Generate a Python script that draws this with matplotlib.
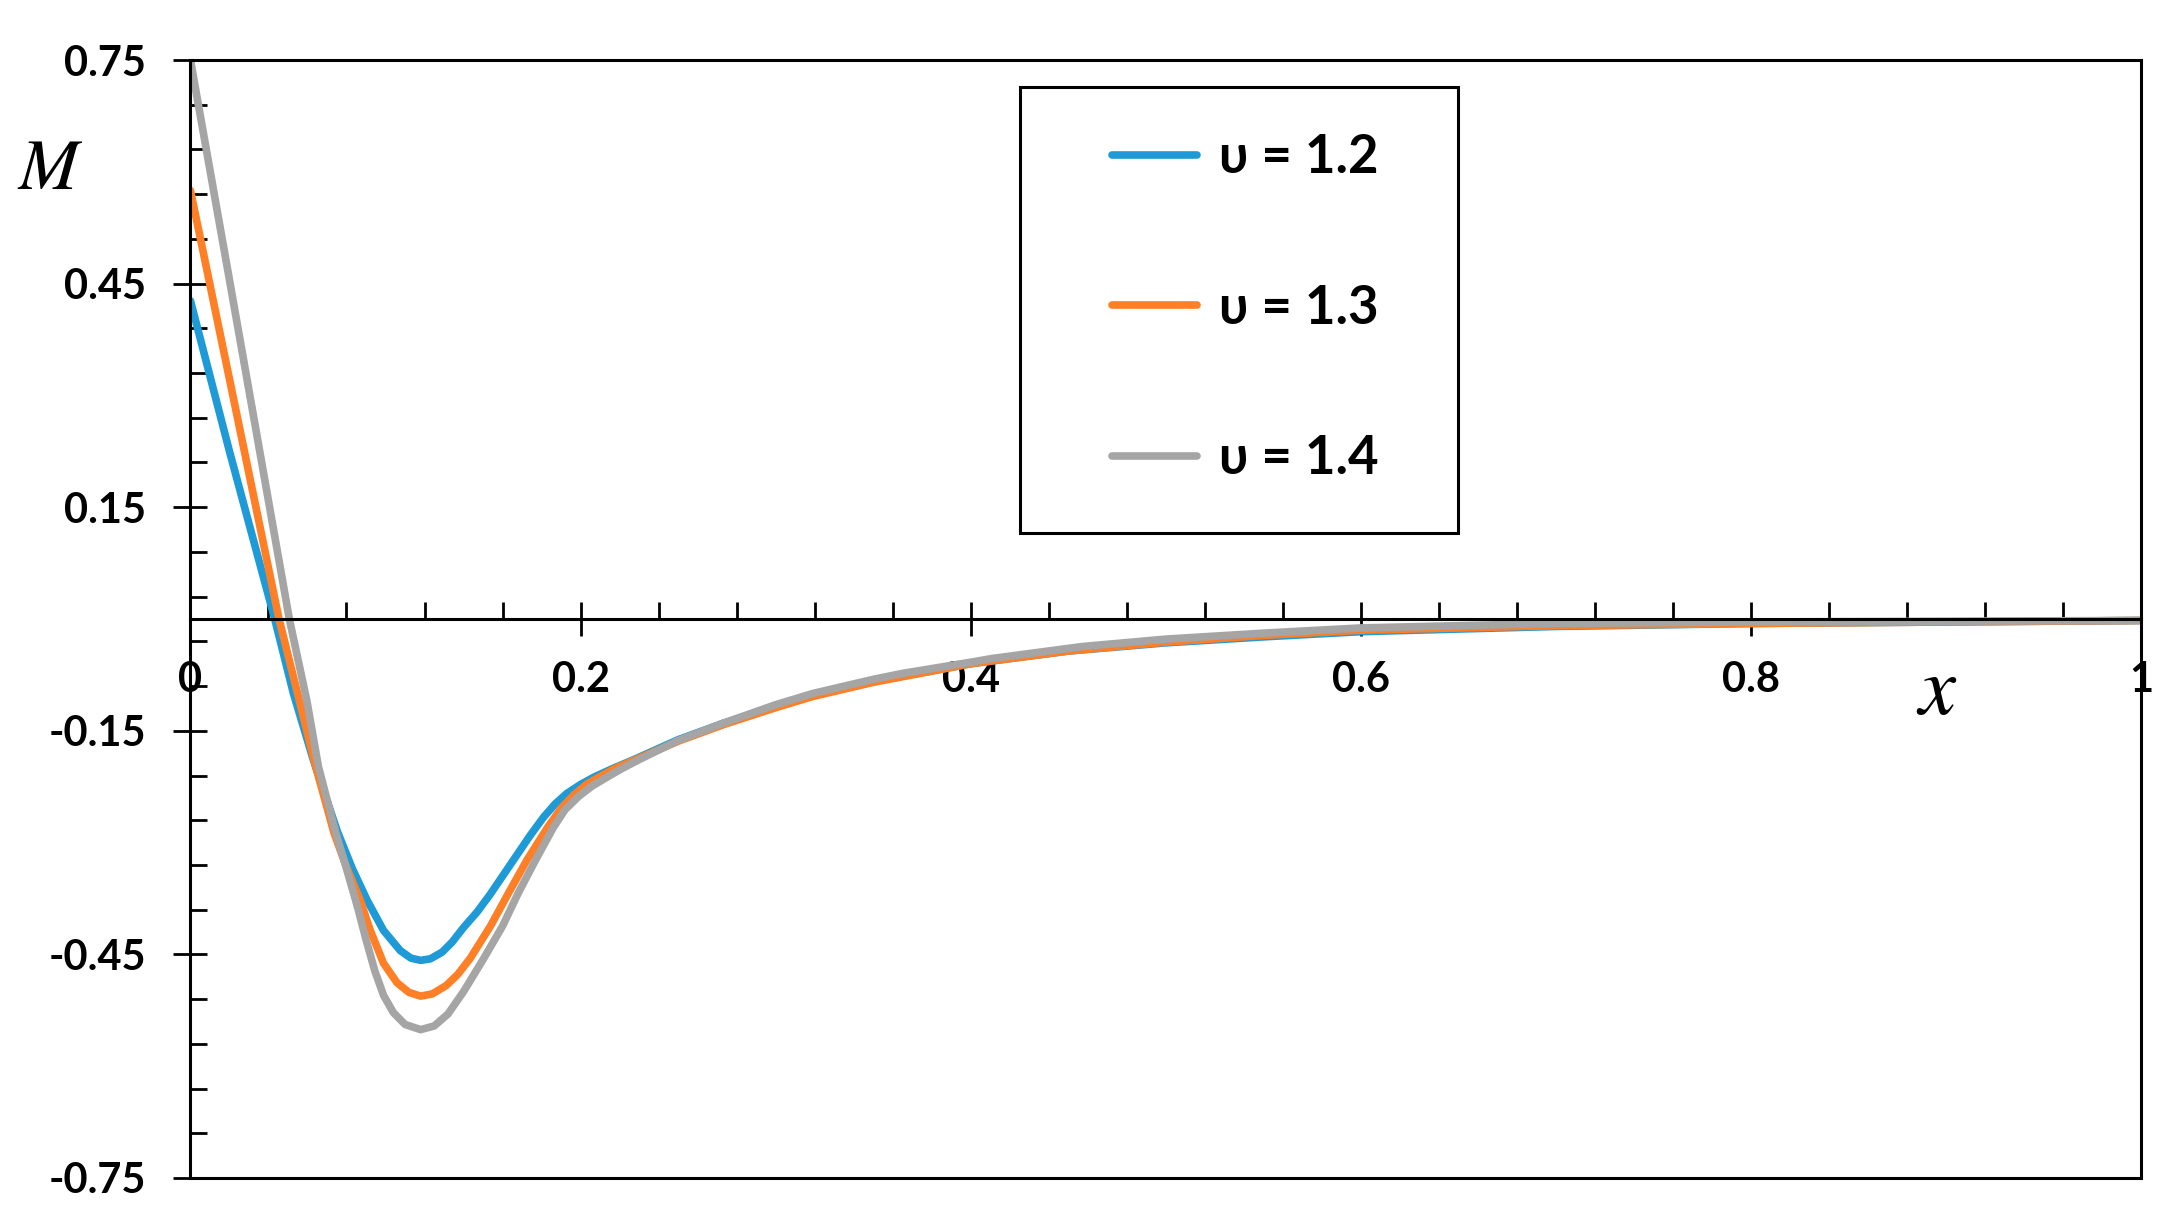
import matplotlib
matplotlib.use("Agg")
import matplotlib.pyplot as plt
from matplotlib.ticker import MultipleLocator, FixedLocator
from matplotlib.patches import Rectangle

plt.rcParams['font.family'] = ['Lato', 'DejaVu Sans']
plt.rcParams['axes.unicode_minus'] = False
plt.rcParams['mathtext.fontset'] = 'stix'

# values
x_12 = [0, 0.02, 0.0432, 0.0528, 0.0631, 0.0753, 0.083, 0.0905, 0.099, 0.1076, 0.113,
        0.118, 0.123, 0.129, 0.134, 0.140, 0.147, 0.1535, 0.160, 0.167, 0.174, 0.181,
        0.187, 0.193, 0.200, 0.207, 0.217, 0.227, 0.25, 0.273, 0.30, 0.319, 0.35, 0.40,
        0.45, 0.5, 0.55, 0.6, 0.7, 0.8, 0.9, 1.0]
m_12 = [0.427, 0.225, 0.0, -0.100, -0.190, -0.285, -0.335, -0.377, -0.418, -0.445, -0.455,
        -0.458, -0.456, -0.447, -0.434, -0.414, -0.393, -0.370, -0.345, -0.318, -0.291, -0.266,
        -0.248, -0.234, -0.222, -0.212, -0.200, -0.189, -0.162, -0.140, -0.117, -0.102, -0.084,
        -0.060, -0.043, -0.032, -0.024, -0.017, -0.010, -0.006, -0.004, -0.002]

x_13 = [0, 0.02, 0.0454, 0.0554, 0.0639, 0.0736, 0.080, 0.087, 0.0922, 0.099, 0.1059,
        0.112, 0.118, 0.124, 0.131, 0.137, 0.1435, 0.1538, 0.163, 0.1726, 0.183, 0.190,
        0.1966, 0.203, 0.2103, 0.218, 0.227, 0.25, 0.273, 0.30, 0.319, 0.35, 0.40, 0.45,
        0.5, 0.55, 0.6, 0.7, 0.8, 0.9, 1.0]
m_13 = [0.575, 0.322, 0.0, -0.105, -0.195, -0.287, -0.333, -0.377, -0.418, -0.462, -0.488,
        -0.501, -0.506, -0.503, -0.492, -0.477, -0.455, -0.412, -0.368, -0.323, -0.280, -0.254,
        -0.236, -0.222, -0.211, -0.200, -0.190, -0.164, -0.142, -0.119, -0.104, -0.085, -0.060,
        -0.043, -0.031, -0.022, -0.015, -0.009, -0.006, -0.004, -0.002]

x_14 = [0, 0.02, 0.0507, 0.0597, 0.0656, 0.0745, 0.080, 0.0855, 0.090, 0.0945, 0.099,
        0.104, 0.110, 0.118, 0.125, 0.132, 0.140, 0.150, 0.160, 0.168, 0.177, 0.186,
        0.192, 0.199, 0.206, 0.2137, 0.221, 0.229, 0.25, 0.273, 0.30, 0.319, 0.35, 0.365,
        0.40, 0.411, 0.457, 0.5, 0.55, 0.6, 0.7, 0.8, 0.9, 1.0]
m_14 = [0.75, 0.455, 0.0, -0.110, -0.198, -0.287, -0.335, -0.385, -0.430, -0.472, -0.505,
        -0.528, -0.544, -0.551, -0.546, -0.530, -0.500, -0.457, -0.412, -0.368, -0.323, -0.280,
        -0.256, -0.238, -0.224, -0.212, -0.201, -0.190, -0.163, -0.140, -0.115, -0.100, -0.081,
        -0.073, -0.058, -0.053, -0.037, -0.027, -0.019, -0.012, -0.006, -0.004, -0.003, -0.002]

labels = ['υ = 1.2', 'υ = 1.3', 'υ = 1.4']
colors = ['#1E9BD7', '#FF7F27', '#A5A5A5']

xticks = [0, 0.2, 0.4, 0.6, 0.8, 1.0]
xtick_labels = ['0', '0.2', '0.4', '0.6', '0.8', '1']
yticks = [-0.75, -0.45, -0.15, 0.15, 0.45, 0.75]

fig = plt.figure(figsize=(21.79, 12.30), dpi=100)
ax = fig.add_axes([0.0874, 0.0423, 0.8952, 0.9089])

for xs, ys, c, lab in zip([x_12, x_13, x_14], [m_12, m_13, m_14], colors, labels):
    ax.plot(xs, ys, color=c, lw=5.5, label=lab, solid_capstyle='round',
            solid_joinstyle='round')

ax.set_xlim(0, 1)
ax.set_ylim(-0.75, 0.75)

for s in ax.spines.values():
    s.set_linewidth(2.2)
ax.spines['bottom'].set_position(('data', 0))
ax.axhline(-0.75, color='black', lw=2.2, clip_on=False)

ax.xaxis.set_major_locator(FixedLocator(xticks))
ax.set_xticklabels(xtick_labels)
ax.xaxis.set_minor_locator(MultipleLocator(0.04))
ax.yaxis.set_major_locator(FixedLocator(yticks))
ax.set_yticklabels(['%.2f' % v for v in yticks])
ax.yaxis.set_minor_locator(MultipleLocator(0.06, offset=0.03))

ax.tick_params(which='major', direction='inout', length=24, width=2, labelsize=30)
ax.tick_params(which='minor', direction='in', length=12, width=2)
ax.tick_params(axis='x', which='major', pad=18)
ax.tick_params(axis='y', which='major', pad=20)
for t in ax.get_xticklabels() + ax.get_yticklabels():
    t.set_fontweight('bold')

ax.text(-0.072, 0.605, r'$M$', fontsize=52, ha='center', va='center', clip_on=False)
ax.text(0.895, -0.097, r'$x$', fontsize=60, ha='center', va='center')

leg = ax.legend(loc='center', bbox_to_anchor=(0.5409, 0.778), frameon=False,
                prop={'weight': 'bold', 'size': 38}, handlelength=1.6,
                handletextpad=0.42, labelspacing=1.92, borderpad=0)
ax.add_patch(Rectangle((0.4253, 0.577), 0.2245, 0.3988, transform=ax.transAxes,
                       fill=False, edgecolor='black', lw=2.2, zorder=5))

fig.savefig('out.png', dpi=100)
